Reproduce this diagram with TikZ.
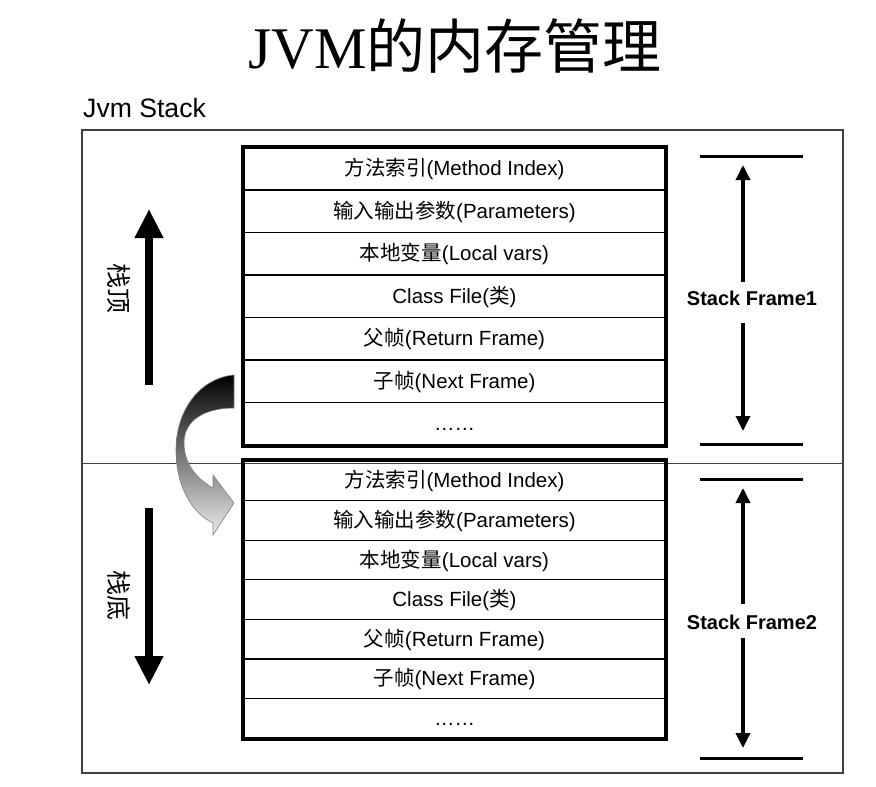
\documentclass[tikz,border=0pt]{standalone}
\usepackage{fontspec}
\setmainfont{Liberation Sans}
\newfontfamily\cjk{Noto Sans CJK SC}
\newfontfamily\titleserif{Liberation Serif}
\usetikzlibrary{arrows.meta}
\newcommand\zh[1]{{\cjk #1}}
\begin{document}
\begin{tikzpicture}[x=1pt,y=-1pt,
  rowbox/.style={draw, line width=1.2pt, minimum width=421pt, inner sep=0pt,
    text height=16pt, text depth=2pt, font=\fontsize{20.5}{24}\selectfont},
  framebox/.style={line width=4pt},
  outerframe/.style={line width=2pt, draw=black!75},
  bigarrow/.style={line width=8pt, -{Triangle[width=27pt,length=29pt]}},
  sizearrow/.style={line width=3.4pt, -{Triangle[width=14pt,length=15pt]}},
  bracketline/.style={line width=3pt},
  sflabel/.style={font=\fontsize{20}{24}\selectfont\bfseries, inner sep=0pt},
  vlabel/.style={font=\cjk\fontsize{25}{30}\selectfont, rotate=-90, inner sep=0pt}]
\useasboundingbox (0,0) rectangle (876,787);

% title and caption
\node[anchor=base, inner sep=0pt, font=\titleserif\fontsize{59}{64}\selectfont] (title) at (455,68) {JVM\zh{的内存管理}};
\node[anchor=base west, inner sep=0pt, font=\fontsize{26.6}{30}\selectfont] (jvmstack) at (83,117) {Jvm Stack};

% outer frame and divider
\draw[outerframe] (82,130) rectangle (843,773);
\coordinate (divL) at (82,463);
\coordinate (divR) at (843,463);
\draw[line width=1pt, black!75] (divL) -- (divR);

% curved arrow
\shade[top color=black, middle color=black!55, bottom color=black!8, draw=black!50, line width=0.6pt]
  (234,375) .. controls (200,378) and (176,410) .. (176,450)
  .. controls (176,490) and (195,515) .. (213,523)
  -- (213,535) -- (234,503) -- (213,475) -- (213,488)
  .. controls (195,478) and (184,462) .. (184,443)
  .. controls (184,420) and (205,408) .. (234,408) -- cycle;

% upper stack frame
\foreach \t [count=\i] in {\zh{方法索引}(Method Index), \zh{输入输出参数}(Parameters), \zh{本地变量}(Local vars), Class File(\zh{类}), \zh{父帧}(Return Frame), \zh{子帧}(Next Frame), ……}{
  \node[rowbox, minimum height=42.5pt] (u\i) at (454.5,{147.5+42.5*(\i-0.5)}) {\t};
}
\draw[framebox] (u1.north west) rectangle (u7.south east);

% lower stack frame
\foreach \t [count=\i] in {\zh{方法索引}(Method Index), \zh{输入输出参数}(Parameters), \zh{本地变量}(Local vars), Class File(\zh{类}), \zh{父帧}(Return Frame), \zh{子帧}(Next Frame), ……}{
  \node[rowbox, minimum height=39.6pt] (l\i) at (454.5,{461+39.6*(\i-0.5)}) {\t};
}
\draw[framebox] (l1.north west) rectangle (l7.south east);

% left arrows and labels
\coordinate (upS) at (149,385);
\coordinate (upE) at (149,209);
\draw[bigarrow] (upS) -- (upE);
\node[vlabel] (top) at (119,288) {栈顶};
\coordinate (dnS) at (149,508);
\coordinate (dnE) at (149,685);
\draw[bigarrow] (dnS) -- (dnE);
\node[vlabel] (bottom) at (119,595) {栈底};

% right size markers: frame 1
\coordinate (b1tl) at (700,156); \coordinate (b1tr) at (803,156);
\coordinate (b1bl) at (700,444); \coordinate (b1br) at (803,444);
\draw[bracketline] (b1tl) -- (b1tr);
\draw[bracketline] (b1bl) -- (b1br);
\node[sflabel] (sf1) at (752,298) {Stack Frame1};
\coordinate (s1a) at (743,282); \coordinate (s1at) at (743,165);
\coordinate (s1b) at (743,323); \coordinate (s1bt) at (743,431);
\draw[sizearrow] (s1a) -- (s1at);
\draw[sizearrow] (s1b) -- (s1bt);

% right size markers: frame 2
\coordinate (b2tl) at (700,479); \coordinate (b2tr) at (803,479);
\coordinate (b2bl) at (700,758); \coordinate (b2br) at (803,758);
\draw[bracketline] (b2tl) -- (b2tr);
\draw[bracketline] (b2bl) -- (b2br);
\node[sflabel] (sf2) at (752,622) {Stack Frame2};
\coordinate (s2a) at (743,604); \coordinate (s2at) at (743,488);
\coordinate (s2b) at (743,638); \coordinate (s2bt) at (743,748);
\draw[sizearrow] (s2a) -- (s2at);
\draw[sizearrow] (s2b) -- (s2bt);
\end{tikzpicture}
\end{document}
